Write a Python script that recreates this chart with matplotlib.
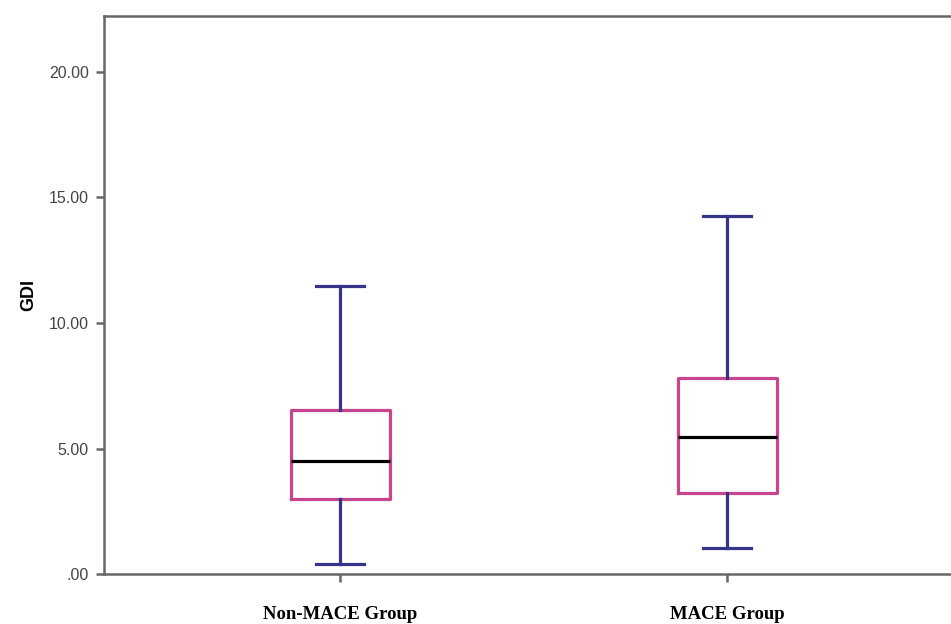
import matplotlib
matplotlib.use("Agg")
import matplotlib.pyplot as plt

groups = ["Non-MACE Group", "MACE Group"]
whislo = [0.40, 1.04]
q1 = [2.99, 3.23]
med = [4.50, 5.46]
q3 = [6.53, 7.81]
whishi = [11.47, 14.26]
yticks = [0, 5, 10, 15, 20]
ytick_labels = [".00", "5.00", "10.00", "15.00", "20.00"]

stats = [
    dict(label=g, whislo=lo, q1=a, med=m, q3=b, whishi=hi, fliers=[])
    for g, lo, a, m, b, hi in zip(groups, whislo, q1, med, q3, whishi)
]

fig = plt.figure(figsize=(9.51, 6.24), dpi=100)
ax = fig.add_axes([0.1094, 0.0801, 0.8906 + 0.013, 0.8943])

box_col = "#C8448C"
whisk_col = "#34348A"
ax.bxp(
    stats,
    positions=[0, 1],
    widths=0.255,
    showfliers=False,
    boxprops=dict(color=box_col, linewidth=2.3),
    whiskerprops=dict(color=whisk_col, linewidth=2.3),
    capprops=dict(color=whisk_col, linewidth=2.3),
    medianprops=dict(color="black", linewidth=2.3),
    capwidths=0.125,
)

ax.set_xlim(-0.61, 1.61)
ax.set_ylim(0, 22.23)

spine_col = "#666666"
for side in ["left", "bottom", "top"]:
    ax.spines[side].set_color(spine_col)
    ax.spines[side].set_linewidth(1.8)
ax.spines["right"].set_visible(False)

ax.set_yticks(yticks)
ax.set_yticklabels(ytick_labels, fontsize=11.5, fontfamily="Liberation Sans", color="#444444")
ax.tick_params(axis="y", length=6, width=1.8, color=spine_col, pad=5)
ax.set_xticks([0, 1])
ax.set_xticklabels(groups, fontsize=13.5, fontfamily="Liberation Serif", fontweight="bold")
ax.tick_params(axis="x", length=6, width=1.8, color=spine_col, pad=17)

ax.set_ylabel("GDI", fontsize=13, fontfamily="Liberation Sans", fontweight="bold", labelpad=8)

fig.savefig("out.png", dpi=100)
